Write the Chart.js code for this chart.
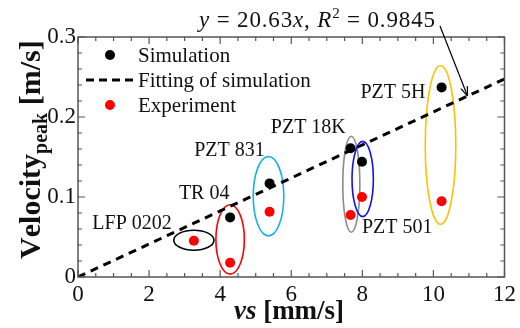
<!DOCTYPE html>
<html>
<head>
<meta charset="utf-8">
<script src="https://cdn.jsdelivr.net/npm/chart.js@4.4.0/dist/chart.umd.min.js"></script>
<style>
  html, body { margin: 0; padding: 0; background: #fff; }
  #wrap { width: 520px; height: 328px; }
</style>
</head>
<body>
<div id="wrap"><canvas id="chart" width="520" height="328"></canvas></div>
<script>
// simulation points (black)
const simX = [4.28, 5.39, 7.67, 7.99, 10.23];
const simY = [0.0745, 0.117, 0.161, 0.144, 0.237];
// experiment points (red)
const expX = [3.26, 4.28, 5.39, 7.67, 7.99, 10.23];
const expY = [0.0454, 0.0178, 0.0816, 0.0775, 0.100, 0.0946];
// fitting line y = 20.63x (vs in mm/s)
const fitX = [0, 12];
const fitY = [0, 0.2476];

// material labels
const matNames = ['LFP 0202', 'TR 04', 'PZT 831', 'PZT 18K', 'PZT 501', 'PZT 5H'];
const matX = [1.52, 3.55, 4.26, 6.48, 8.98, 8.86];
const matY = [0.066, 0.104, 0.1575, 0.186, 0.061, 0.230];

// grouping ellipses (center and half axes in data units)
const ellX = [3.26, 4.28, 5.36, 7.69, 8.01, 10.20];
const ellY = [0.046, 0.047, 0.101, 0.116, 0.1225, 0.165];
const ellRx = [0.565, 0.40, 0.43, 0.24, 0.30, 0.43];
const ellRy = [0.0125, 0.0434, 0.0496, 0.060, 0.047, 0.099];
const ellColors = ['#000000', '#ff0000', '#16b0ec', '#8a8a8a', '#1414e6', '#ffc000'];

const xTicks = [0, 2, 4, 6, 8, 10, 12];
const yTicks = [0, 0.1, 0.2, 0.3];

const SERIF = "'Liberation Serif', 'Times New Roman', serif";
const frameColor = '#555';

function pts(xs, ys){ return xs.map((x, i) => ({x: x, y: ys[i]})); }

// frame + inward ticks on all four sides
const frameTicks = {
  id: 'frameTicks',
  afterDatasetsDraw(chart){
    const {ctx, chartArea: a, scales: {x, y}} = chart;
    ctx.save();
    ctx.strokeStyle = frameColor;
    ctx.lineWidth = 1.5;
    ctx.strokeRect(a.left, a.top, a.right - a.left, a.bottom - a.top);
    ctx.lineWidth = 1.2;
    ctx.beginPath();
    for (let i = 0; i <= 24; i++) {
      const px = x.getPixelForValue(i * 0.5);
      const len = i % 4 == 0 ? 7 : 4;
      ctx.moveTo(px, a.bottom); ctx.lineTo(px, a.bottom - len);
      ctx.moveTo(px, a.top); ctx.lineTo(px, a.top + len);
    }
    for (let i = 0; i <= 15; i++) {
      const py = y.getPixelForValue(i * 0.02);
      const len = i % 5 == 0 ? 7 : 4;
      ctx.moveTo(a.left, py); ctx.lineTo(a.left + len, py);
      ctx.moveTo(a.right, py); ctx.lineTo(a.right - len, py);
    }
    ctx.stroke();
    ctx.restore();
  }
};

// ellipses around the material pairs
const ellipses = {
  id: 'ellipses',
  beforeDatasetsDraw(chart){
    const {ctx, scales: {x, y}} = chart;
    ctx.save();
    ctx.lineWidth = 1.6;
    ellX.forEach((cx, i) => {
      const px = x.getPixelForValue(cx), py = y.getPixelForValue(ellY[i]);
      const rx = x.getPixelForValue(cx + ellRx[i]) - px;
      const ry = py - y.getPixelForValue(ellY[i] + ellRy[i]);
      ctx.strokeStyle = ellColors[i];
      ctx.beginPath();
      ctx.ellipse(px, py, rx, ry, 0, 0, Math.PI * 2);
      ctx.stroke();
    });
    ctx.restore();
  }
};

// draws text pieces one after another, with optional extra space per char
function drawPieces(ctx, pieces, x0, y0, gap){
  let x = x0;
  gap = gap || 0;
  pieces.forEach(p => {
    ctx.font = p.font;
    for (const ch of p.t) {
      ctx.fillText(ch, x, y0 + (p.dy || 0));
      x += ctx.measureText(ch).width + gap;
    }
  });
  return x;
}
function piecesWidth(ctx, pieces){
  let w = 0;
  pieces.forEach(p => { ctx.font = p.font; w += ctx.measureText(p.t).width; });
  return w;
}
function charCount(pieces){ return pieces.reduce((n, p) => n + p.t.length, 0); }

// labels, legend, titles, annotation
const decorations = {
  id: 'decorations',
  afterDraw(chart){
    const {ctx, chartArea: a, scales: {x, y}} = chart;
    ctx.save();
    ctx.fillStyle = '#111';
    ctx.textBaseline = 'middle';
    ctx.textAlign = 'center';
    ctx.font = '20px ' + SERIF;
    matNames.forEach((n, i) => {
      ctx.fillText(n, x.getPixelForValue(matX[i]), y.getPixelForValue(matY[i]));
    });

    // legend
    ctx.textAlign = 'left';
    ctx.font = '21px ' + SERIF;
    ctx.fillStyle = '#000';
    ctx.beginPath(); ctx.arc(110, 55, 5, 0, Math.PI * 2); ctx.fill();
    ctx.fillStyle = '#111';
    ctx.fillText('Simulation', 138, 56);
    ctx.strokeStyle = '#000'; ctx.lineWidth = 3; ctx.setLineDash([8, 5]);
    ctx.beginPath(); ctx.moveTo(86, 80); ctx.lineTo(135, 80); ctx.stroke();
    ctx.setLineDash([]);
    ctx.fillText('Fitting of simulation', 138, 81);
    ctx.fillStyle = '#ff0000';
    ctx.beginPath(); ctx.arc(110, 105, 5, 0, Math.PI * 2); ctx.fill();
    ctx.fillStyle = '#111';
    ctx.fillText('Experiment', 138, 106);

    // equation annotation, spread to the width of the original
    ctx.textBaseline = 'alphabetic';
    const eq = [
      {t: 'y', font: 'italic 23px ' + SERIF},
      {t: ' = 20.63', font: '23px ' + SERIF},
      {t: 'x', font: 'italic 23px ' + SERIF},
      {t: ', ', font: '23px ' + SERIF},
      {t: 'R', font: 'italic 23px ' + SERIF},
      {t: '2', font: '15px ' + SERIF, dy: -9},
      {t: ' = 0.9845', font: '23px ' + SERIF}
    ];
    const eqW = piecesWidth(ctx, eq);
    const eqGap = Math.max(0, (236 - eqW) / (charCount(eq) - 1));
    drawPieces(ctx, eq, 199, 27, eqGap);

    // arrow to the fitting line
    const ax = x.getPixelForValue(10.96), ay = y.getPixelForValue(fitY[1] * 10.96 / fitX[1]);
    const sx = 440, sy = 26;
    ctx.strokeStyle = '#000'; ctx.lineWidth = 1.2;
    ctx.beginPath(); ctx.moveTo(sx, sy); ctx.lineTo(ax, ay); ctx.stroke();
    const ang = Math.atan2(ay - sy, ax - sx);
    ctx.beginPath();
    ctx.moveTo(ax, ay);
    ctx.lineTo(ax - 10 * Math.cos(ang - 0.35), ay - 10 * Math.sin(ang - 0.35));
    ctx.moveTo(ax, ay);
    ctx.lineTo(ax - 10 * Math.cos(ang + 0.35), ay - 10 * Math.sin(ang + 0.35));
    ctx.stroke();

    // x title
    ctx.fillStyle = '#111';
    const xt = [
      {t: 'vs', font: 'italic bold 27px ' + SERIF},
      {t: ' [mm/s]', font: 'bold 27px ' + SERIF}
    ];
    const xw = piecesWidth(ctx, xt);
    drawPieces(ctx, xt, 289 - xw / 2, 319);

    // y title (rotated)
    const yt = [
      {t: 'Velocity', font: 'bold 30px ' + SERIF},
      {t: 'peak', font: 'bold 20px ' + SERIF, dy: 7},
      {t: ' [m/s]', font: 'bold 30px ' + SERIF}
    ];
    const yw = piecesWidth(ctx, yt);
    ctx.translate(40, 151);
    ctx.rotate(-Math.PI / 2);
    drawPieces(ctx, yt, -yw / 2, 0);
    ctx.restore();
  }
};

new Chart(document.getElementById('chart'), {
  type: 'scatter',
  data: {
    datasets: [
      {
        type: 'line',
        data: pts(fitX, fitY),
        borderColor: '#000',
        borderWidth: 3,
        borderDash: [8, 6],
        pointRadius: 0,
        fill: false
      },
      {
        data: pts(simX, simY),
        backgroundColor: '#000',
        borderWidth: 0,
        pointRadius: 5
      },
      {
        data: pts(expX, expY),
        backgroundColor: '#ff0000',
        borderWidth: 0,
        pointRadius: 5
      }
    ]
  },
  options: {
    responsive: false,
    animation: false,
    layout: { padding: { top: 37, right: 10, left: 0, bottom: 0 } },
    plugins: { legend: { display: false }, tooltip: { enabled: false } },
    scales: {
      x: {
        type: 'linear', min: 0, max: 12,
        afterFit: s => { s.height = 51; },
        afterBuildTicks: s => { s.ticks = xTicks.map(v => ({value: v})); },
        grid: { display: false, drawTicks: false },
        border: { display: false },
        ticks: { padding: 4, color: '#111', font: { family: SERIF, size: 23 } }
      },
      y: {
        type: 'linear', min: 0, max: 0.3,
        afterFit: s => { s.width = 78; },
        afterBuildTicks: s => { s.ticks = yTicks.map(v => ({value: v})); },
        grid: { display: false, drawTicks: false },
        border: { display: false },
        ticks: { padding: 2, color: '#111', font: { family: SERIF, size: 23 },
          callback: v => v == 0 ? '0' : v.toFixed(1) }
      }
    }
  },
  plugins: [ellipses, frameTicks, decorations]
});
</script>
</body>
</html>
